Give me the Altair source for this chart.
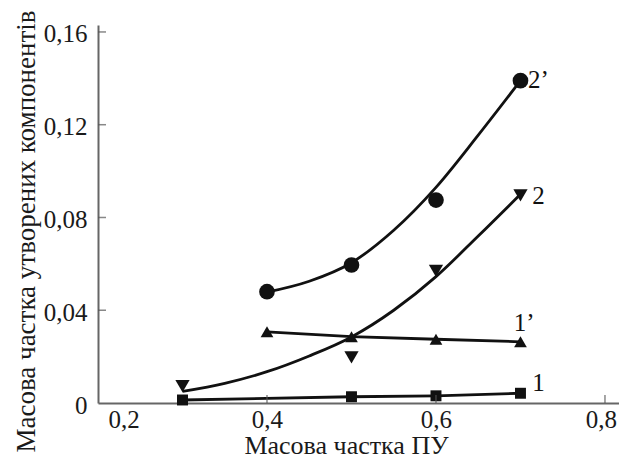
import altair as alt
import pandas as pd

x1 = [0.3, 0.5, 0.6, 0.7]
y1 = [0.0013, 0.0027, 0.0031, 0.0042]          # series 1 (squares)
x1p = [0.4, 0.5, 0.6, 0.7]
y1p = [0.0307, 0.0286, 0.0275, 0.0264]         # series 1' (up triangles)
x2 = [0.3, 0.5, 0.6, 0.7]
y2 = [0.0073, 0.0197, 0.057, 0.0895]           # series 2 (down triangles)
x2p = [0.4, 0.5, 0.6, 0.7]
y2p = [0.048, 0.0595, 0.0875, 0.139]           # series 2' (circles)

# Fitted curves as drawn in the reference
c2_x = [0.30, 0.35, 0.40, 0.45, 0.50, 0.55, 0.60, 0.65, 0.70]
c2_y = [0.0050, 0.0085, 0.0135, 0.0203, 0.0285, 0.0400, 0.0545, 0.0720, 0.0900]
c2p_x = [0.40, 0.45, 0.50, 0.55, 0.60, 0.65, 0.70]
c2p_y = [0.0478, 0.0525, 0.0605, 0.0745, 0.0930, 0.1155, 0.1390]

series_names = ["1", "1’", "2", "2’"]
series_shapes = ["square", "triangle-up", "triangle-down", "circle"]
series_sizes = [120, 245, 245, 140]

x_ticks = [0.2, 0.4, 0.6, 0.8]
y_ticks = [0, 0.04, 0.08, 0.12, 0.16]

lab_text = ["2’", "2", "1’", "1"]
lab_x = [0.709, 0.714, 0.692, 0.714]
lab_y = [0.136, 0.086, 0.031, 0.005]

x_title = "Масова частка ПУ"
y_title = "Масова частка утворених компонентів"

rows = []
for name, xs, ys in zip(series_names, [x1, x1p, x2, x2p], [y1, y1p, y2, y2p]):
    for a, b in zip(xs, ys):
        rows.append({"series": name, "x": a, "y": b})
df = pd.DataFrame(rows)

crow = []
for name, xs, ys in zip(["2", "2’"], [c2_x, c2p_x], [c2_y, c2p_y]):
    for a, b in zip(xs, ys):
        crow.append({"series": name, "x": a, "y": b})
cdf = pd.DataFrame(crow)

labels_df = pd.DataFrame({"t": lab_text, "x": lab_x, "y": lab_y})
xt_df = pd.DataFrame({"x": x_ticks[1:]})
yt_df = pd.DataFrame({"y": y_ticks[1:]})

FONT = "Liberation Serif"
INK = "#111111"

xscale = alt.Scale(domain=[0.2, 0.8166], nice=False, zero=False)
yscale = alt.Scale(domain=[0, 0.163], nice=False, zero=False)

xenc = alt.X("x:Q", scale=xscale, axis=alt.Axis(
    values=x_ticks, title=x_title, ticks=False, grid=False,
    labelFont=FONT, titleFont=FONT, labelFontSize=25, titleFontSize=26,
    labelExpr="replace(format(datum.value, '.1f'), '.', ',')",
    labelOffset={"condition": [{"test": "datum.value < 0.3", "value": 10},
                               {"test": "datum.value > 0.7", "value": -4}],
                 "value": 0},
    labelPadding=4, labelOverlap=False, labelBound=False,
    titleX=248, titleY=50, titleBaseline="alphabetic", titleAlign="center"))
yenc = alt.Y("y:Q", scale=yscale, axis=alt.Axis(
    values=y_ticks, title=y_title, ticks=False, grid=False,
    labelFont=FONT, titleFont=FONT, labelFontSize=25, titleFontSize=27,
    labelExpr="datum.value == 0 ? '0' : replace(format(datum.value, '.2f'), '.', ',')",
    labelPadding=11, labelOffset=2, labelOverlap=False,
    titleX=-64, titleY=206, titleBaseline="alphabetic", titleAlign="center", titleAngle=-90))

base = alt.Chart(df)

straight = base.transform_filter(
    alt.FieldOneOfPredicate(field="series", oneOf=["1", "1’"])
).mark_line(color=INK, strokeWidth=2.8).encode(x=xenc, y=yenc, detail="series:N")

curves = alt.Chart(cdf).mark_line(
    color=INK, strokeWidth=2.8, interpolate="monotone"
).encode(x="x:Q", y="y:Q", detail="series:N")

points = base.mark_point(filled=True, color=INK, opacity=1).encode(
    x="x:Q", y="y:Q",
    shape=alt.Shape("series:N", scale=alt.Scale(domain=series_names, range=series_shapes), legend=None),
    size=alt.Size("series:N", scale=alt.Scale(domain=series_names, range=series_sizes), legend=None))

texts = alt.Chart(labels_df).mark_text(
    font=FONT, fontSize=25, align="left", baseline="alphabetic", color=INK
).encode(x="x:Q", y="y:Q", text="t:N")

xticks = alt.Chart(xt_df).mark_tick(
    orient="vertical", size=8, thickness=1.5, color="#555", yOffset=-4
).encode(x="x:Q", y=alt.datum(0))

yticks = alt.Chart(yt_df).mark_tick(
    orient="horizontal", size=8, thickness=1.5, color="#555", xOffset=4
).encode(y="y:Q", x=alt.datum(0.2))

chart = alt.layer(straight, curves, points, texts, xticks, yticks).properties(
    width=521, height=378,
    padding={"left": 98, "top": 25, "right": 0, "bottom": 57},
    autosize=alt.AutoSizeParams(type="none"),
).configure(font=FONT).configure_view(stroke=None).configure_axis(
    labelFont=FONT, titleFont=FONT,
    labelColor="#1a1a1a", titleColor="#1a1a1a", titleFontWeight="normal",
    domainColor="#666666", domainWidth=2,
)

chart.save("out.html", embed_options={"renderer": "svg", "actions": False})
